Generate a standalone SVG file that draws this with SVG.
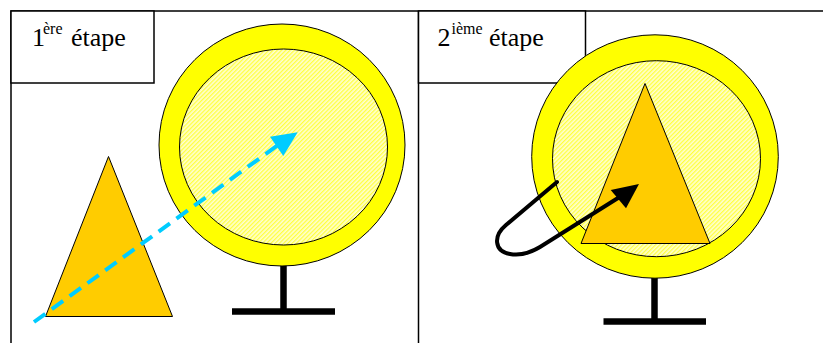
<svg xmlns="http://www.w3.org/2000/svg" width="823" height="343" viewBox="0 0 823 343">
<style>
.frame{fill:none;stroke:#000;stroke-width:1.5}
.lbl{fill:#fff;stroke:#000;stroke-width:1.5}
.t{fill:#000}
.outer{fill:#FFFF00;stroke:#000;stroke-width:1}
.inner{fill:url(#hatch);stroke:#000;stroke-width:1}
.tri{fill:#FFCC00;stroke:#000;stroke-width:1}
.stand{stroke:#000;stroke-width:6.5;fill:none}
</style>
<defs>
<pattern id="hatch" patternUnits="userSpaceOnUse" width="3" height="3" patternTransform="rotate(45)">
<rect width="3" height="3" fill="#FFFFD0"/>
<rect width="1.3" height="3" fill="#FFFF40"/>
</pattern>
</defs>
<g id="frame">
<path class="frame" d="M11,343 V11 H823 M418.5,11 V343"/>
</g>
<g id="label1">
<rect class="lbl" x="11" y="11" width="143" height="72"/>
<text class="t" font-family="'Liberation Serif', 'DejaVu Serif', serif" font-size="26" y="46"><tspan x="32">1</tspan><tspan x="43" y="34" font-size="16">ère</tspan><tspan x="71" y="46">étape</tspan></text>
</g>
<g id="label2">
<rect class="lbl" x="418.5" y="11" width="167" height="72"/>
<text class="t" font-family="'Liberation Serif', 'DejaVu Serif', serif" font-size="26" y="46"><tspan x="437.5">2</tspan><tspan x="451.5" y="34" font-size="16">ième</tspan><tspan x="489" y="46">étape</tspan></text>
</g>
<g id="target1">
<line class="stand" x1="283.5" y1="265" x2="283.5" y2="312"/>
<line class="stand" x1="232" y1="311.5" x2="335" y2="311.5" stroke-width="5.5"/>
<ellipse class="outer" cx="282" cy="145" rx="123" ry="121"/>
<ellipse class="inner" cx="283.5" cy="147" rx="104" ry="98"/>
</g>
<g id="triangle1">
<polygon class="tri" points="108.5,156.5 45.5,316.5 172.5,316.5"/>
</g>
<g id="target2">
<line class="stand" x1="654.5" y1="277" x2="654.5" y2="322"/>
<line class="stand" x1="603.5" y1="321.5" x2="706" y2="321.5" stroke-width="5.5"/>
<ellipse class="outer" cx="655" cy="156.5" rx="123.3" ry="121.7"/>
<ellipse class="inner" cx="656.5" cy="158.7" rx="104" ry="98"/>
</g>
<g id="triangle2">
<polygon class="tri" points="645,83.5 581,243.5 710,243.5"/>
</g>
<g id="connectors">
<line x1="34" y1="322" x2="278" y2="145" stroke="#00CCFF" stroke-width="4" stroke-dasharray="14 8"/>
<polygon points="297.7,132.3 270,136.7 283.3,156" fill="#00CCFF"/>
<path d="M557,182 L506,225 C493,236 494,251 510,254 C521,256 530,253 540,247 L618,198" fill="none" stroke="#000" stroke-width="4" stroke-linecap="round" stroke-linejoin="round"/>
<polygon points="639,184 610.7,190 626,208.3" fill="#000"/>
</g>
</svg>
